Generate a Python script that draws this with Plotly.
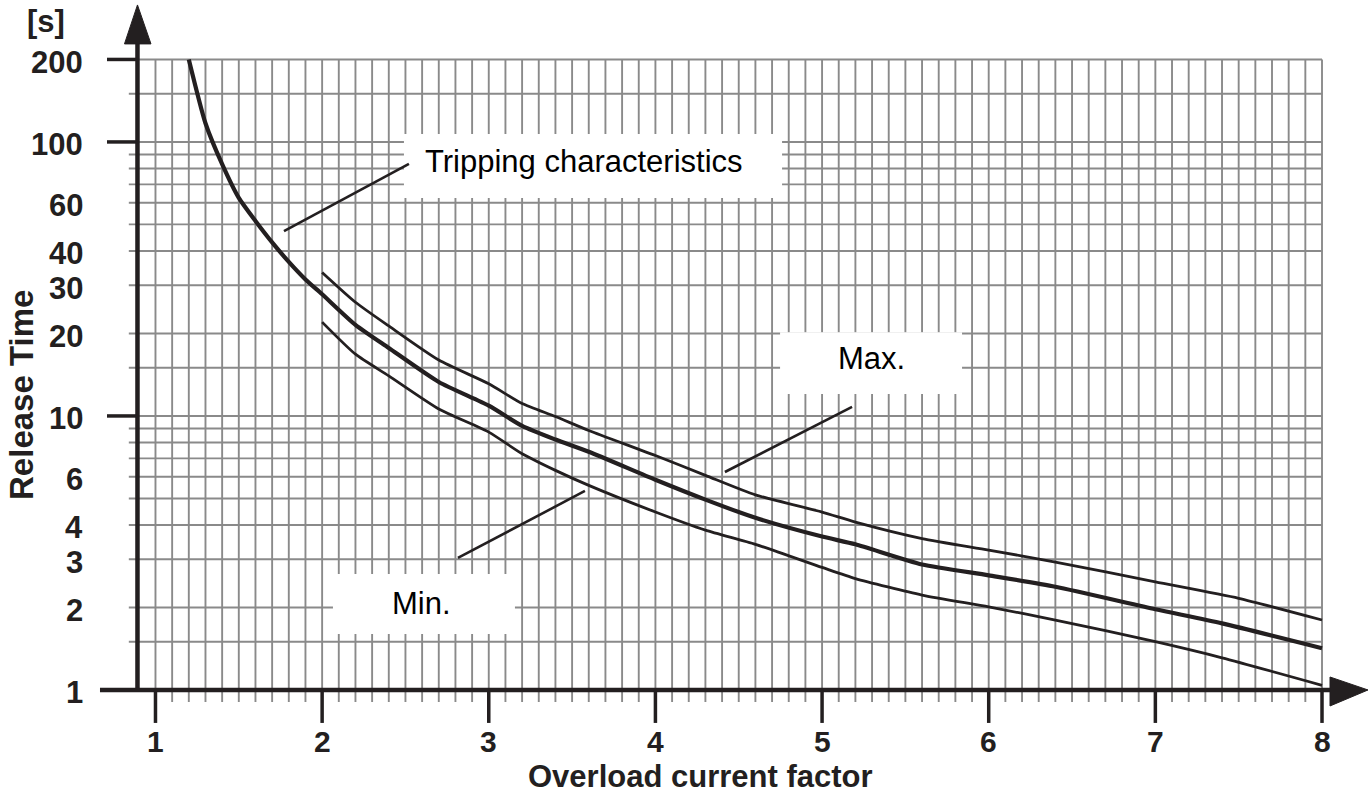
import math
import plotly.graph_objects as go

# Overload current factor / release time readings (log time axis)
main_x = [1.2, 1.3, 1.4, 1.5, 1.6, 1.7, 1.8, 1.9, 2.0, 2.2, 2.4, 2.7, 3.0, 3.2, 3.4, 3.6,
          4.0, 4.3, 4.6, 5.0, 5.2, 5.6, 6.0, 6.4, 7.0, 7.4, 8.0]
main_t = [200, 117, 83, 62.5, 51.5, 43, 36.5, 31.5, 27.8, 21.5, 17.7, 13.3, 10.9, 9.2, 8.2, 7.4,
          5.85, 4.95, 4.25, 3.63, 3.4, 2.87, 2.62, 2.38, 1.97, 1.75, 1.42]

max_x = [2.0, 2.2, 2.4, 2.7, 3.0, 3.2, 3.4, 3.6, 4.0, 4.3, 4.6, 5.0, 5.2, 5.6,
         6.0, 6.4, 7.0, 7.5, 8.0]
max_t = [33.4, 26, 21.3, 16, 13.1, 11.1, 9.95, 8.85, 7.17, 6.07, 5.15, 4.46, 4.1, 3.57,
         3.24, 2.93, 2.48, 2.16, 1.80]

min_x = [2.0, 2.2, 2.4, 2.7, 3.0, 3.2, 3.4, 3.6, 4.0, 4.3, 4.6, 5.0, 5.2, 5.6,
         6.0, 6.4, 7.0, 7.4, 8.0]
min_t = [22.0, 16.8, 14.0, 10.6, 8.73, 7.28, 6.33, 5.58, 4.46, 3.83, 3.40, 2.80, 2.55, 2.22,
         2.01, 1.80, 1.50, 1.31, 1.04]

x_ticks = [1, 2, 3, 4, 5, 6, 7, 8]
x_tick_text = ["1", "2", "3", "4", "5", "6", "7", "8"]
y_ticks = [200, 100, 60, 40, 30, 20, 10, 6, 4, 3, 2, 1]
y_tick_text = ["200", "100", "60", "40", "30", "20", "10", "6", "4", "3", "2", "1"]
y_long_ticks = [200, 100, 10]
y_grid = [1.5, 2, 3, 4, 5, 6, 7, 8, 9, 10, 15, 20, 30, 40, 50, 60, 70, 80, 90, 100, 150, 200]
x_grid = [round(1 + 0.1 * i, 1) for i in range(71)]

INK = "#231f20"
GRID = "#8a8a8a"
FONT = "Liberation Sans, Arial, Helvetica, sans-serif"

fig = go.Figure()

shapes = []
# grid: vertical lines every 0.1, horizontal lines at 1-2-3... steps
for gx in x_grid:
    shapes.append(dict(type="line", xref="x", yref="y", x0=gx, x1=gx, y0=0.904, y1=200,
                       line=dict(color=GRID, width=1.9), layer="below"))
for gy in y_grid:
    shapes.append(dict(type="line", xref="x", yref="y", x0=0.84, x1=8.0, y0=gy, y1=gy,
                       line=dict(color=GRID, width=1.9), layer="below"))

# white label boxes cut out of the grid
for bx0, bx1, by0, by1 in [(2.491, 4.760, 62.45, 106.9),
                           (4.748, 5.840, 12.03, 20.2),
                           (2.065, 3.157, 1.601, 2.651)]:
    shapes.append(dict(type="rect", xref="x", yref="y", x0=bx0, x1=bx1, y0=by0, y1=by1,
                       fillcolor="white", line=dict(width=0), layer="below"))

# leader lines to the labels
for lx0, ly0, lx1, ly1 in [(1.771, 47.3, 2.521, 83.1),
                           (4.417, 6.245, 5.180, 10.79),
                           (2.815, 3.032, 3.577, 5.324)]:
    shapes.append(dict(type="line", xref="x", yref="y", x0=lx0, y0=ly0, x1=lx1, y1=ly1,
                       line=dict(color=INK, width=2.6), layer="below"))

# axes with arrow heads
shapes.append(dict(type="line", xref="x", yref="y", x0=0.892, x1=0.892, y0=1, y1=230,
                   line=dict(color=INK, width=4.5), layer="below"))
shapes.append(dict(type="line", xref="x", yref="y", x0=0.667, x1=8.06, y0=1, y1=1,
                   line=dict(color=INK, width=4.5), layer="below"))
shapes.append(dict(type="path", xref="x", yref="y",
                   path="M 0.814 227.9 L 0.892 316.2 L 0.973 227.9 Z",
                   fillcolor=INK, line=dict(color=INK, width=1), layer="below"))
shapes.append(dict(type="path", xref="x", yref="y",
                   path="M 8.048 1.115 L 8.276 1.0 L 8.048 0.874 Z",
                   fillcolor=INK, line=dict(color=INK, width=1), layer="below"))

# major ticks
for ty in y_long_ticks:
    shapes.append(dict(type="line", xref="x", yref="y", x0=0.709, x1=0.892, y0=ty, y1=ty,
                       line=dict(color=INK, width=3.5), layer="below"))
for tx in x_ticks:
    shapes.append(dict(type="line", xref="x", yref="y", x0=tx, x1=tx, y0=0.758, y1=1,
                       line=dict(color=INK, width=3.5), layer="below"))

# curves
fig.add_trace(go.Scatter(x=max_x, y=max_t, mode="lines",
                         line=dict(color=INK, width=2.8, shape="spline", smoothing=0.6),
                         hoverinfo="skip"))
fig.add_trace(go.Scatter(x=min_x, y=min_t, mode="lines",
                         line=dict(color=INK, width=2.8, shape="spline", smoothing=0.6),
                         hoverinfo="skip"))
fig.add_trace(go.Scatter(x=main_x, y=main_t, mode="lines",
                         line=dict(color=INK, width=4.2, shape="spline", smoothing=0.6),
                         hoverinfo="skip"))

annotations = []
bold = dict(family=FONT, size=31, color=INK, weight="bold")
for v, t in zip(y_ticks, y_tick_text):
    annotations.append(dict(x=0.571, y=math.log10(v), xref="x", yref="y", text=t,
                            xanchor="right", yanchor="middle", yshift=-3, borderpad=0,
                            showarrow=False, font=bold))
for v, t in zip(x_ticks, x_tick_text):
    annotations.append(dict(x=v, y=-0.1898, xref="x", yref="y", text=t,
                            xanchor="center", yanchor="middle", borderpad=0,
                            showarrow=False, font=dict(bold, size=30)))
annotations.append(dict(x=4.268, y=-0.3850, xref="x", yref="y", text="Overload current factor",
                        xanchor="center", yanchor="bottom", showarrow=False, borderpad=0,
                        font=dict(bold, size=31)))
annotations.append(dict(x=0.199, y=1.0766, xref="x", yref="y", text="Release Time",
                        textangle=-90, xanchor="center", yanchor="middle", showarrow=False,
                        borderpad=0, font=dict(bold, size=33)))
annotations.append(dict(x=0.343, y=2.438, xref="x", yref="y", text="[s]",
                        xanchor="center", yanchor="middle", showarrow=False, borderpad=0,
                        font=bold))

label_font = dict(family=FONT, size=31, color="#000000")
annotations.append(dict(x=3.571, y=1.927, xref="x", yref="y", text="Tripping characteristics",
                        xanchor="center", yanchor="middle", showarrow=False, font=label_font))
annotations.append(dict(x=5.294, y=1.208, xref="x", yref="y", text="Max.",
                        xanchor="center", yanchor="middle", showarrow=False, font=label_font))
annotations.append(dict(x=2.599, y=0.314, xref="x", yref="y", text="Min.",
                        xanchor="center", yanchor="middle", showarrow=False, font=label_font))

fig.update_layout(
    width=1372, height=796,
    margin=dict(l=0, r=0, t=0, b=0),
    paper_bgcolor="white", plot_bgcolor="white",
    showlegend=False,
    xaxis=dict(range=[0.067, 8.300], visible=False, fixedrange=True),
    yaxis=dict(type="log", range=[-0.387, 2.518], visible=False, fixedrange=True),
    shapes=shapes,
    annotations=annotations,
)

fig.write_html("out.html")
